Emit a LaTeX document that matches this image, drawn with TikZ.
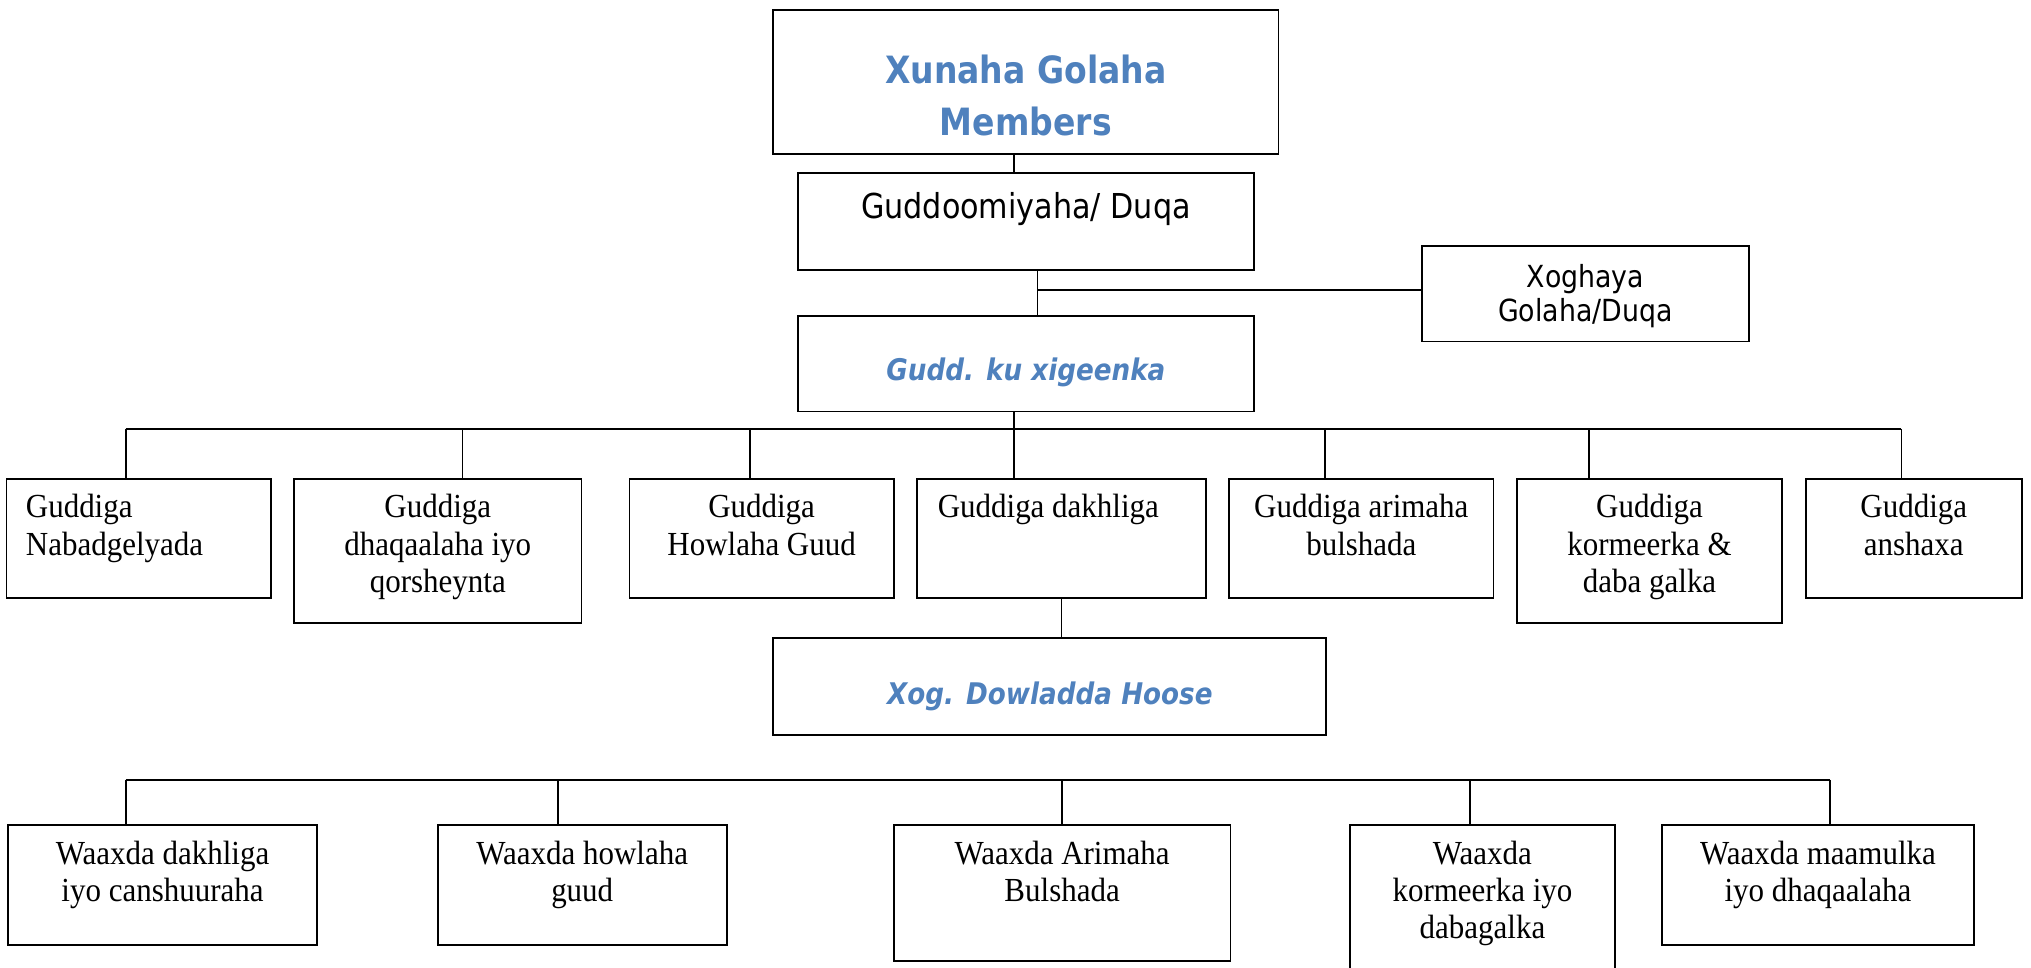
\documentclass[tikz,border=0pt]{standalone}
\usepackage{fontspec}
\newfontfamily\tms[FakeStretch=0.92]{Liberation Serif}
\newfontfamily\tah[FakeStretch=0.88,BoldFont={DejaVu Sans Bold},BoldItalicFont={DejaVu Sans Bold Oblique}]{DejaVu Sans}
\definecolor{hblue}{HTML}{4F81BD}
\newcommand{\cell}[5][\centering]{\parbox[c][#3][t]{#2}{#1\rule{0pt}{#4}#5}}
\tikzset{
  box/.style={draw,inner sep=0pt,anchor=north},
  head/.style={font={\tah\bfseries\fontsize{29}{40}\selectfont},text=hblue},
  sub/.style={font={\tah\bfseries\itshape\fontsize{23}{28}\selectfont},text=hblue},
  tahl/.style={font={\tah\fontsize{26.5}{30}\selectfont}},
  tahs/.style={font={\tah\fontsize{23.5}{26.5}\selectfont}},
  gud/.style={font={\tms\fontsize{26}{29}\selectfont}},
  waax/.style={font={\tms\fontsize{26}{28.5}\selectfont}}
}
\begin{document}
\begin{tikzpicture}[x=1pt,y=-1pt,line width=1.4pt]
\useasboundingbox (0,0) rectangle (1568,747);
\node[box,head] (top) at (792,7) {\cell{390pt}{111pt}{57pt}{Xunaha Golaha\\Members}};
\node[box,tahl] (duq) at (792,133) {\cell{352pt}{75pt}{35pt}{Guddoomiyaha/ Duqa}};
\node[box,tahs] (xgh) at (1224,189) {\cell{252pt}{74pt}{32pt}{Xoghaya\\Golaha/Duqa}};
\node[box,sub] (gudd) at (792,243) {\cell{352pt}{74pt}{50pt}{Gudd. ku xigeenka}};

% guddiyada
\node[box,gud] (ga) at (107,369) {\cell[\raggedright\leftskip=15pt]{204pt}{92pt}{30pt}{Guddiga\\Nabadgelyada}};
\node[box,gud] (gb) at (338,369) {\cell{222pt}{111pt}{30pt}{Guddiga\\dhaqaalaha iyo\\qorsheynta}};
\node[box,gud] (gc) at (588,369) {\cell{204pt}{92pt}{30pt}{Guddiga\\Howlaha Guud}};
\node[box,gud] (gd) at (819.5,369) {\cell[\raggedright\leftskip=16pt]{223pt}{92pt}{30pt}{Guddiga dakhliga}};
\node[box,gud] (ge) at (1051,369) {\cell{204pt}{92pt}{30pt}{Guddiga arimaha\\bulshada}};
\node[box,gud] (gf) at (1273.5,369) {\cell{205pt}{111pt}{30pt}{Guddiga\\kormeerka \&\\daba galka}};
\node[box,gud] (gg) at (1477.5,369) {\cell{167pt}{92pt}{30pt}{Guddiga\\anshaxa}};

\node[box,sub] (xog) at (810.5,492) {\cell{427pt}{75pt}{51.5pt}{Xog. Dowladda Hoose}};

% waaxyaha
\node[box,waax] (wa) at (125.5,636) {\cell{239pt}{93pt}{31pt}{Waaxda dakhliga\\iyo canshuuraha}};
\node[box,waax] (wb) at (449.5,636) {\cell{223pt}{93pt}{31pt}{Waaxda howlaha\\guud}};
\node[box,waax] (wc) at (820,636) {\cell{260pt}{105pt}{31pt}{Waaxda Arimaha\\Bulshada}};
\node[box,waax] (wd) at (1144.5,636) {\cell{205pt}{130pt}{31pt}{Waaxda\\kormeerka iyo\\dabagalka}};
\node[box,waax] (we) at (1403.5,636) {\cell{241pt}{93pt}{31pt}{Waaxda maamulka\\iyo dhaqaalaha}};

\foreach \n/\x in {ga/97,gb/357,gc/579,gd/783,ge/1023,gf/1227,gg/1468}{
  \coordinate (b\n) at (\x,331);
  \draw (b\n) -- (b\n |- \n.north);
}
\draw (bga) -- (bgg);
\draw (top.south -| bgd) -- (duq.north -| bgd);
\draw (gudd.south -| bgd) -- (bgd);
\coordinate (jx) at (801,224);
\draw (duq.south -| jx) -- (gudd.north -| jx);
\draw (jx) -- (jx -| xgh.west);
\draw (gd.south) -- (xog.north -| gd.south);

\foreach \n/\x in {wa/97,wb/431,wc/820,wd/1135,we/1413}{
  \coordinate (b\n) at (\x,602);
  \draw (b\n) -- (b\n |- \n.north);
}
\draw (bwa) -- (bwe);
\end{tikzpicture}
\end{document}
